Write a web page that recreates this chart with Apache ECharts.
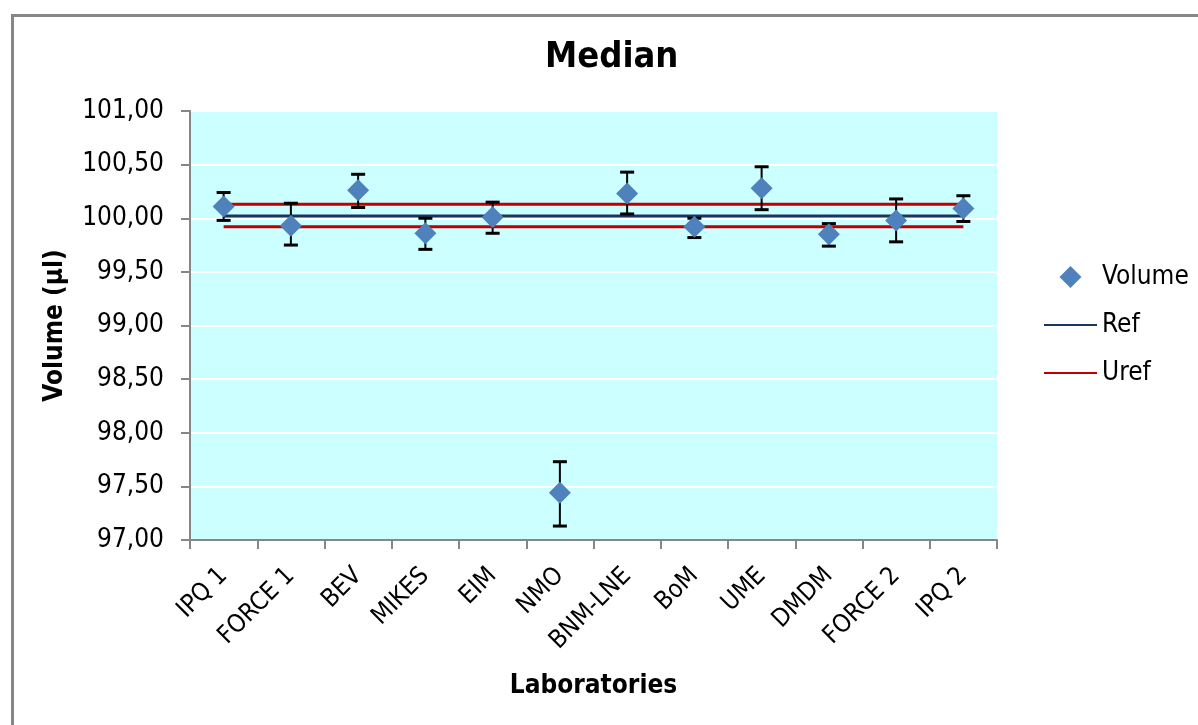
<!DOCTYPE html>
<html>
<head>
<meta charset="utf-8">
<script src="https://cdn.jsdelivr.net/npm/echarts@6/dist/echarts.min.js"></script>
<style>html,body{margin:0;padding:0;background:#fff}#c{width:1198px;height:725px}</style>
</head>
<body>
<div id="c"></div>
<script>
const labs = ['IPQ 1','FORCE 1','BEV','MIKES','EIM','NMO','BNM-LNE','BoM','UME','DMDM','FORCE 2','IPQ 2'];
const volume = [100.11, 99.93, 100.26, 99.86, 100.01, 97.44, 100.23, 99.92, 100.28, 99.85, 99.98, 100.09];
const errLow = [99.98, 99.75, 100.10, 99.71, 99.86, 97.13, 100.04, 99.82, 100.08, 99.74, 99.78, 99.97];
const errHigh = [100.24, 100.14, 100.41, 100.00, 100.15, 97.73, 100.43, 100.00, 100.48, 99.95, 100.18, 100.21];
const refValue = 100.02;
const urefLow = 99.92;
const urefHigh = 100.13;
const yTicks = { min: 97, max: 101, interval: 0.5 };

const FONT = '"DejaVu Sans Condensed", "DejaVu Sans", sans-serif';
const chart = echarts.init(document.getElementById('c'));
const errData = labs.map((l, i) => [i, errLow[i], errHigh[i]]);
const lineIcon = 'path://M0,0 L53,0 L53,2 L0,2 Z';
const option = {
  backgroundColor: '#ffffff',
  animation: false,
  textStyle: { fontFamily: FONT, color: '#000' },
  title: {
    text: 'Median', left: 540, top: 35,
    textStyle: { fontFamily: FONT, fontSize: 36, fontWeight: 'bold', color: '#000' }
  },
  graphic: [{
    type: 'rect', left: 10, top: 13, z: -1,
    shape: { x: 0, y: 0, width: 1400, height: 1000 },
    style: { fill: 'none', stroke: '#868686', lineWidth: 3 }
  }],
  legend: {
    orient: 'vertical', left: 1039, top: 259,
    itemWidth: 53, itemHeight: 22, itemGap: 22,
    symbolKeepAspect: true, itemTextGap: 2,
    textStyle: { fontFamily: FONT, fontSize: 26, color: '#000' },
    data: [
      { name: 'Volume', icon: 'path://M10,0 L20,10 L10,20 L0,10 Z', itemStyle: { color: '#4F81BD', opacity: 1 } },
      { name: 'Ref', icon: lineIcon, itemStyle: { color: '#17375E' } },
      { name: 'Uref', icon: lineIcon, itemStyle: { color: '#C00000' } }
    ]
  },
  grid: { left: 190, right: 201, top: 111, bottom: 185, show: true, backgroundColor: '#CCFFFF', borderWidth: 0 },
  xAxis: {
    type: 'category', data: labs, boundaryGap: true,
    axisLine: { lineStyle: { color: '#868686', width: 2 } },
    axisTick: { show: true, length: 9, lineStyle: { color: '#868686', width: 2 } },
    axisLabel: { rotate: 45, fontFamily: FONT, fontSize: 25, color: '#000', margin: 32, interval: 0 },
    name: 'Laboratories', nameLocation: 'middle', nameGap: 133,
    nameTextStyle: { fontFamily: FONT, fontSize: 26, fontWeight: 'bold', color: '#000' }
  },
  yAxis: {
    type: 'value', min: yTicks.min, max: yTicks.max, interval: yTicks.interval,
    axisLine: { show: true, lineStyle: { color: '#868686', width: 2 } },
    axisTick: { show: true, length: 9, lineStyle: { color: '#868686', width: 2 } },
    axisLabel: { fontFamily: FONT, fontSize: 26, color: '#000', margin: 26,
      formatter: v => v.toFixed(2).replace('.', ',') },
    splitLine: { show: true, lineStyle: { color: '#ffffff', width: 2 } },
    name: 'Volume (µl)', nameLocation: 'middle', nameRotate: 90, nameGap: 122,
    nameTextStyle: { fontFamily: FONT, fontSize: 26, fontWeight: 'bold', color: '#000' }
  },
  series: [
    {
      name: 'Ref', type: 'line', data: labs.map(() => refValue), symbol: 'none', z: 2,
      lineStyle: { color: '#17375E', width: 3 }, itemStyle: { color: '#17375E' }
    },
    {
      name: 'Uref', type: 'line', data: labs.map(() => urefHigh), symbol: 'none', z: 2,
      lineStyle: { color: '#C00000', width: 3 }, itemStyle: { color: '#C00000' }
    },
    {
      name: 'Uref', type: 'line', data: labs.map(() => urefLow), symbol: 'none', z: 2,
      lineStyle: { color: '#C00000', width: 3 }, itemStyle: { color: '#C00000' }
    },
    {
      name: 'err', type: 'custom', z: 3, data: errData,
      renderItem: function (params, api) {
        const x = api.value(0);
        const lo = api.coord([x, api.value(1)]);
        const hi = api.coord([x, api.value(2)]);
        const w = 7;
        const st = { stroke: '#000', lineWidth: 2 };
        const cap = { stroke: '#000', lineWidth: 3 };
        return {
          type: 'group',
          children: [
            { type: 'line', shape: { x1: lo[0], y1: lo[1], x2: hi[0], y2: hi[1] }, style: st },
            { type: 'line', shape: { x1: lo[0] - w, y1: lo[1], x2: lo[0] + w, y2: lo[1] }, style: cap },
            { type: 'line', shape: { x1: hi[0] - w, y1: hi[1], x2: hi[0] + w, y2: hi[1] }, style: cap }
          ]
        };
      }
    },
    {
      name: 'Volume', type: 'scatter', data: volume, symbol: 'diamond', symbolSize: 22, z: 4,
      itemStyle: { color: '#4F81BD', opacity: 1 }
    }
  ]
};
chart.setOption(option);
</script>
</body>
</html>
